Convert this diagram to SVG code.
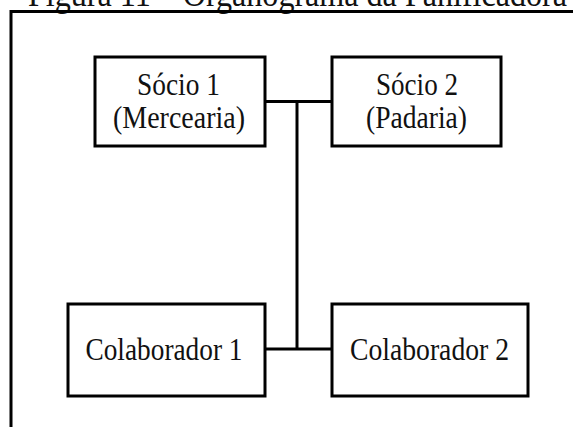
<svg xmlns="http://www.w3.org/2000/svg" width="573" height="427" viewBox="0 0 573 427">
  <style>
    .box { fill: #ffffff; stroke: #000000; stroke-width: 3; }
    .line { fill: none; stroke: #000000; stroke-width: 3; }
    .label { font-family: "Liberation Serif", "Times New Roman", serif; font-size: 31px; fill: #111111; text-anchor: middle; }
    .title { font-family: "Liberation Serif", "Times New Roman", serif; font-size: 36px; fill: #111111; }
  </style>
  <rect width="573" height="427" fill="#ffffff"/>

  <!-- caption and frame -->
  <text class="title" x="28" y="6" textLength="539" lengthAdjust="spacingAndGlyphs">Figura 11 – Organograma da Panificadora</text>
  <path class="line" d="M11,427 V11.5 H575"/>

  <!-- connectors -->
  <g id="connectors">
    <path class="line" d="M265,101.5 H332"/>
    <path class="line" d="M297,101.5 V349"/>
    <path class="line" d="M265,349 H332"/>
  </g>

  <g id="socio1">
    <rect class="box" x="95" y="57" width="170" height="89"/>
    <text class="label" x="178.5" y="95" textLength="83" lengthAdjust="spacingAndGlyphs">Sócio 1</text>
    <text class="label" x="179" y="128" textLength="132" lengthAdjust="spacingAndGlyphs">(Mercearia)</text>
  </g>

  <g id="socio2">
    <rect class="box" x="332" y="57" width="169" height="89"/>
    <text class="label" x="417" y="95" textLength="82" lengthAdjust="spacingAndGlyphs">Sócio 2</text>
    <text class="label" x="416.5" y="128" textLength="101" lengthAdjust="spacingAndGlyphs">(Padaria)</text>
  </g>

  <g id="colaborador1">
    <rect class="box" x="68" y="304" width="197" height="92"/>
    <text class="label" x="164" y="360" textLength="157" lengthAdjust="spacingAndGlyphs">Colaborador 1</text>
  </g>

  <g id="colaborador2">
    <rect class="box" x="332" y="304" width="196" height="92"/>
    <text class="label" x="429.5" y="360" textLength="159" lengthAdjust="spacingAndGlyphs">Colaborador 2</text>
  </g>
</svg>
